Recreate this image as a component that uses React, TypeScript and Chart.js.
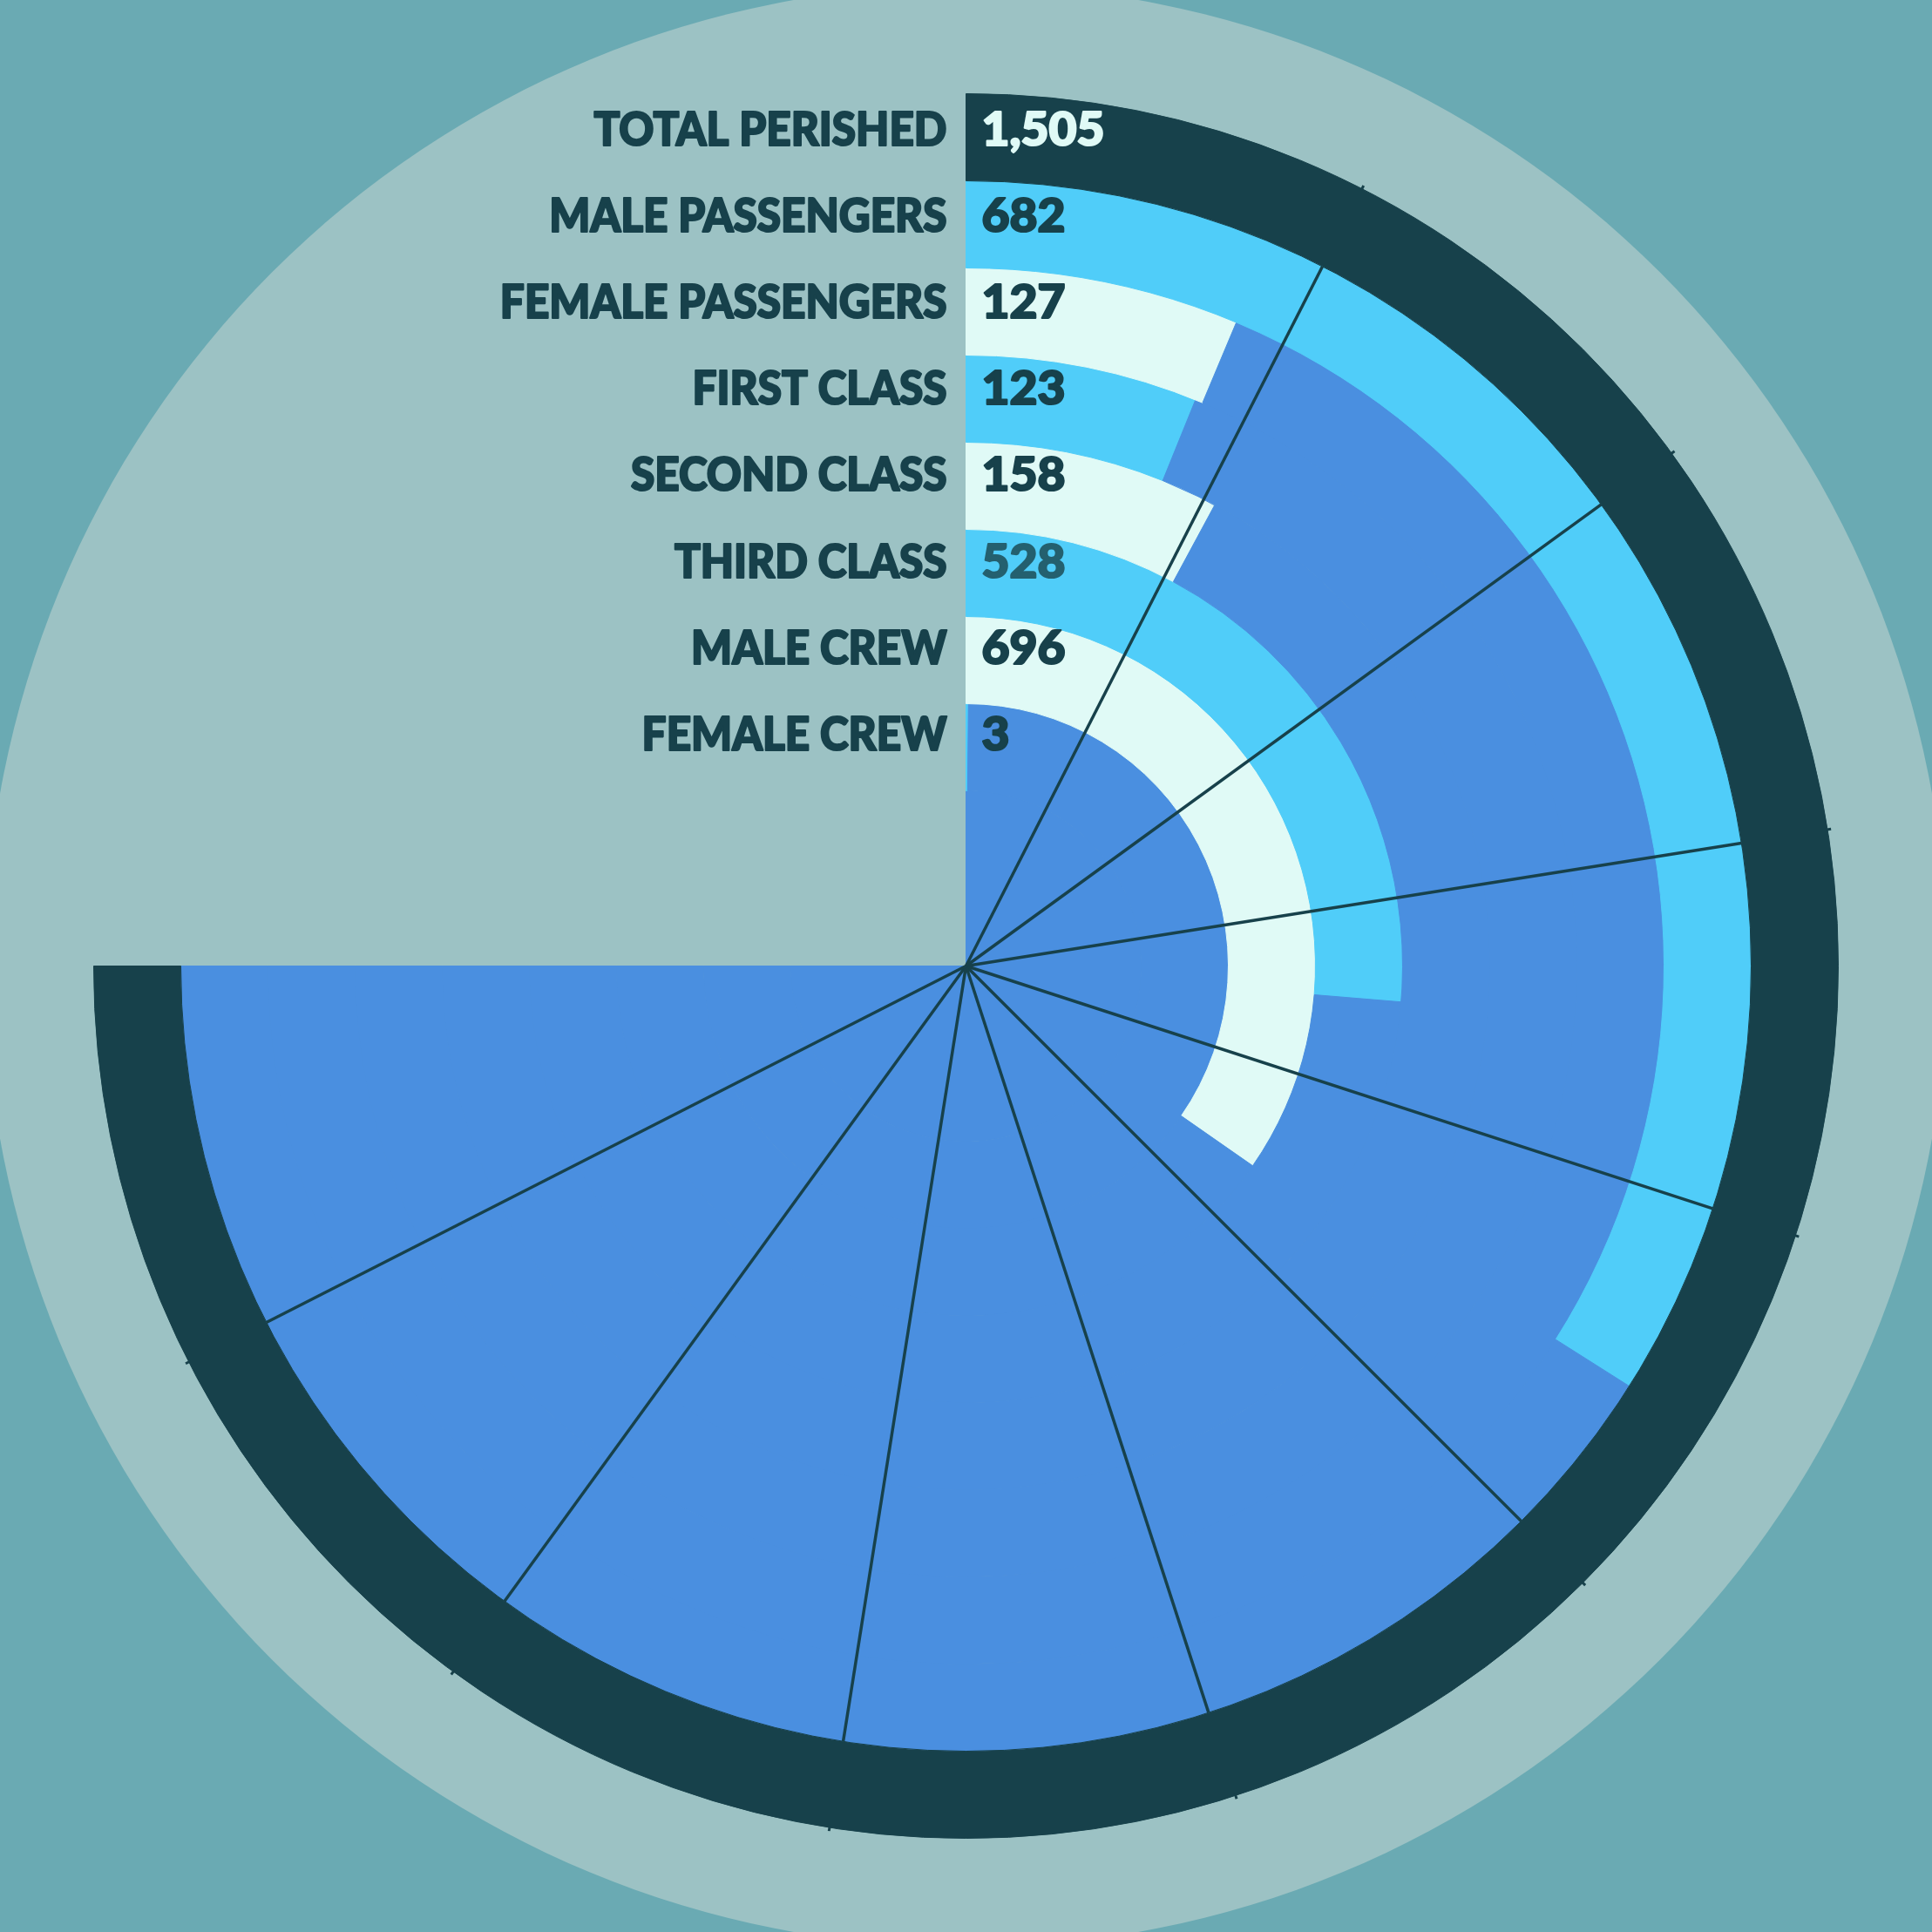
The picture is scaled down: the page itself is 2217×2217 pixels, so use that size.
import React, { useEffect, useRef } from "react";
import { Chart, registerables } from "chart.js";

Chart.register(...registerables);

// ---- data ----
const LABELS = [
  "TOTAL PERISHED",
  "MALE PASSENGERS",
  "FEMALE PASSENGERS",
  "FIRST CLASS",
  "SECOND CLASS",
  "THIRD CLASS",
  "MALE CREW",
  "FEMALE CREW",
];
const VALUES = [1505, 682, 127, 123, 158, 528, 696, 3];
const VALUE_TEXT = ["1,505", "682", "127", "123", "158", "528", "696", "3"];

// ---- styles ----
const DARK = "#17414B";
const LIGHT_BLUE = "#50CDF9";
const PALE = "#E0FAF6";
const BLUE = "#4A8FE0";
const GRAY = "#9CC2C4";
const TEAL = "#6AAAB3";
const RING_COLORS = [DARK, LIGHT_BLUE, PALE, LIGHT_BLUE, PALE, LIGHT_BLUE, PALE, LIGHT_BLUE];
const VALUE_COLORS = [PALE, DARK, DARK, DARK, DARK, "#24606F", DARK, DARK];

const TOTAL = VALUES[0];
const SCALE_MAX = TOTAL / 0.75; // the total spans three quarters of the circle
const GRID_DIVISIONS = 10;

const SIZE = 2217;

const backgroundPlugin = {
  id: "bgCircle",
  beforeDraw(chart: any) {
    const { ctx, width, height } = chart;
    const a = chart.getDatasetMeta(0).data[0];
    ctx.save();
    ctx.fillStyle = TEAL;
    ctx.fillRect(0, 0, width, height);
    ctx.fillStyle = GRAY;
    ctx.beginPath();
    ctx.arc(a.x, a.y, 1126, 0, Math.PI * 2);
    ctx.fill();
    ctx.restore();
  },
};

const gridPlugin = {
  id: "radialGrid",
  afterDatasetsDraw(chart: any) {
    const { ctx } = chart;
    const a = chart.getDatasetMeta(0).data[0];
    const cx = a.x;
    const cy = a.y;
    const rIn = a.innerRadius;
    const rOut = a.outerRadius;
    ctx.save();
    ctx.strokeStyle = DARK;
    ctx.lineCap = "butt";
    for (let k = 1; k < GRID_DIVISIONS; k++) {
      const v = (k * TOTAL) / GRID_DIVISIONS;
      const ang = -Math.PI / 2 + (v / SCALE_MAX) * Math.PI * 2;
      const c = Math.cos(ang);
      const s = Math.sin(ang);
      ctx.lineWidth = 3.5;
      ctx.beginPath();
      ctx.moveTo(cx, cy);
      ctx.lineTo(cx + c * rIn, cy + s * rIn);
      ctx.stroke();
      ctx.lineWidth = 3;
      ctx.beginPath();
      ctx.moveTo(cx + c * (rOut - 2), cy + s * (rOut - 2));
      ctx.lineTo(cx + c * (rOut + 4), cy + s * (rOut + 4));
      ctx.stroke();
    }
    ctx.restore();
  },
};

const textPlugin = {
  id: "rowText",
  afterDraw(chart: any) {
    const { ctx } = chart;
    const a0 = chart.getDatasetMeta(0).data[0];
    const cx = a0.x;
    const cy = a0.y;
    ctx.save();
    ctx.font = "900 53px Lato";
    const sxL = 405 / ctx.measureText("TOTAL PERISHED").width;
    const sxV = 141 / ctx.measureText("1,505").width;
    const CAP = 38;
    ctx.lineJoin = "round";
    for (let i = 0; i < LABELS.length; i++) {
      const a = chart.getDatasetMeta(i).data[0];
      const mid = (a.outerRadius + a.innerRadius) / 2;
      const yc = cy - mid - 10 - i * 0.8;
      const base = yc + CAP / 2;
      ctx.textBaseline = "alphabetic";
      // label
      ctx.save();
      ctx.translate(cx - 22, base);
      ctx.scale(sxL, 1);
      ctx.textAlign = "right";
      ctx.fillStyle = DARK;
      ctx.strokeStyle = DARK;
      ctx.lineWidth = 2.2;
      ctx.fillText(LABELS[i], 0, 0);
      ctx.strokeText(LABELS[i], 0, 0);
      ctx.restore();
      // value
      ctx.save();
      ctx.translate(cx + 18, base);
      ctx.scale(sxV, 1);
      ctx.textAlign = "left";
      ctx.fillStyle = VALUE_COLORS[i];
      ctx.strokeStyle = VALUE_COLORS[i];
      ctx.lineWidth = 2.2;
      ctx.fillText(VALUE_TEXT[i], 0, 0);
      ctx.strokeText(VALUE_TEXT[i], 0, 0);
      ctx.restore();
    }
    ctx.restore();
  },
};

export default function App() {
  const ref = useRef<HTMLCanvasElement>(null);
  useEffect(() => {
    document.body.style.margin = "0";
    const unused = SCALE_MAX - TOTAL;
    const datasets: any[] = [];
    // outer ring: total
    datasets.push({
      data: [TOTAL, unused],
      backgroundColor: [RING_COLORS[0], "rgba(0,0,0,0)"],
      borderColor: [RING_COLORS[0], "rgba(0,0,0,0)"],
      weight: 1,
    });
    for (let i = 1; i < VALUES.length; i++) {
      datasets.push({
        data: [VALUES[i], TOTAL - VALUES[i], unused],
        backgroundColor: [RING_COLORS[i], BLUE, "rgba(0,0,0,0)"],
        borderColor: [RING_COLORS[i], BLUE, "rgba(0,0,0,0)"],
        weight: 1,
      });
    }
    // center disk
    datasets.push({
      data: [TOTAL, unused],
      backgroundColor: [BLUE, "rgba(0,0,0,0)"],
      borderColor: [BLUE, "rgba(0,0,0,0)"],
      weight: 2.01,
    });
    const chart = new Chart(ref.current as HTMLCanvasElement, {
      type: "doughnut",
      data: { labels: ["value", "rest", "unused"], datasets },
      options: {
        responsive: false,
        animation: false,
        devicePixelRatio: 1,
        events: [],
        cutout: 0,
        radius: 1001,
        elements: {
          arc: {
            borderWidth: 1,
            hoverBorderWidth: 1,
            offset: 0,
            hoverOffset: 0,
            borderAlign: "center",
          } as any,
        },
        plugins: {
          legend: { display: false },
          tooltip: { enabled: false },
          title: { display: false },
        },
      } as any,
      plugins: [backgroundPlugin, gridPlugin, textPlugin],
    });
    return () => chart.destroy();
  }, []);
  return (
    <div style={{ position: "fixed", left: 0, top: 0, width: SIZE, height: SIZE, background: TEAL }}>
      <canvas ref={ref} width={SIZE} height={SIZE} style={{ display: "block", width: SIZE, height: SIZE }} />
    </div>
  );
}
